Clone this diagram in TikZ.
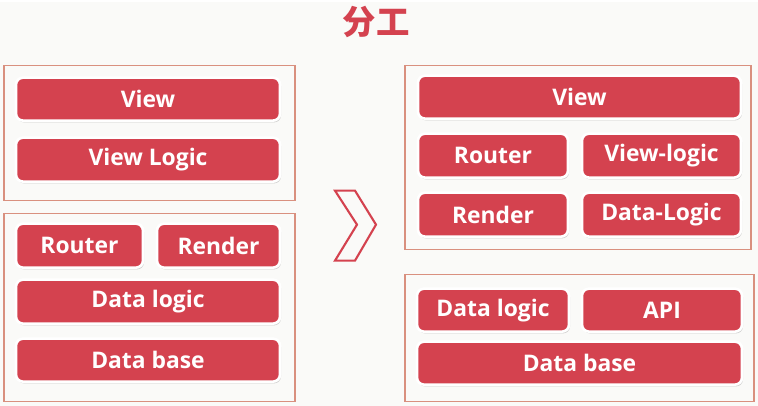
\documentclass[tikz,border=0pt]{standalone}
\usepackage{fontspec}
\setmainfont{Open Sans}
\newfontfamily\cjk{Noto Sans CJK SC}
\usetikzlibrary{shadows}
\definecolor{brick}{HTML}{D4424F}
\definecolor{frame}{HTML}{D9907F}
\definecolor{paper}{HTML}{FAFAF8}
\tikzset{
  blk/.style={fill=brick,draw=white,line width=1.5pt,rounded corners=4pt,
    drop shadow={shadow xshift=0.6pt,shadow yshift=-1pt,fill=black!40,opacity=0.45}},
  lbl/.style={text=white,font=\fontsize{13}{15}\selectfont\bfseries},
  grp/.style={draw=frame,line width=0.7pt},
}
\begin{document}
\begin{tikzpicture}[x=0.02cm,y=-0.02cm]
\fill[paper] (0,0) rectangle (758,404);
\node[text=brick,font=\cjk\fontsize{19}{22}\selectfont\bfseries] (title) at (376,20) {分工};

% before
\draw[grp] (4,64) rectangle (295,199);
\draw[blk] (16,76) rectangle (280,119) node[midway,lbl] (lview) {View};
\draw[blk] (16,136) rectangle (280,180) node[midway,lbl] (lviewlogic) {View Logic};

\draw[grp] (4,212) rectangle (295,400);
\draw[blk] (16,222) rectangle (143,266) node[midway,lbl] (lrouter) {Router};
\draw[blk] (157,222) rectangle (280,266) node[midway,lbl] (lrender) {Render};
\draw[blk] (16,278) rectangle (280,322) node[midway,lbl] (ldatalogic) {Data logic};
\draw[blk] (16,337) rectangle (280,380) node[midway,lbl] (ldatabase) {Data base};

% chevron
\draw[brick,line width=1.2pt] (335,189) -- (355,189) -- (376,223) -- (355,259) -- (335,259) -- (357,223) -- cycle;

% after
\draw[grp] (405,64) rectangle (751,248);
\draw[blk] (418,74) rectangle (741,117) node[midway,lbl] (rview) {View};
\draw[blk] (418,132) rectangle (568,176) node[midway,lbl] (rrouter) {Router};
\draw[blk] (582,132) rectangle (741,176) node[midway,lbl] (rviewlogic) {View-logic};
\draw[blk] (418,191) rectangle (568,235) node[midway,lbl] (rrender) {Render};
\draw[blk] (582,191) rectangle (741,235) node[midway,lbl] (rdatalogic) {Data-Logic};

\draw[grp] (405,273) rectangle (754,400);
\draw[blk] (417,287) rectangle (569,330) node[midway,lbl] (sdatalogic) {Data logic};
\draw[blk] (582,287) rectangle (742,330) node[midway,lbl] (sapi) {API};
\draw[blk] (417,340) rectangle (742,383) node[midway,lbl] (sdatabase) {Data base};

\end{tikzpicture}
\end{document}
